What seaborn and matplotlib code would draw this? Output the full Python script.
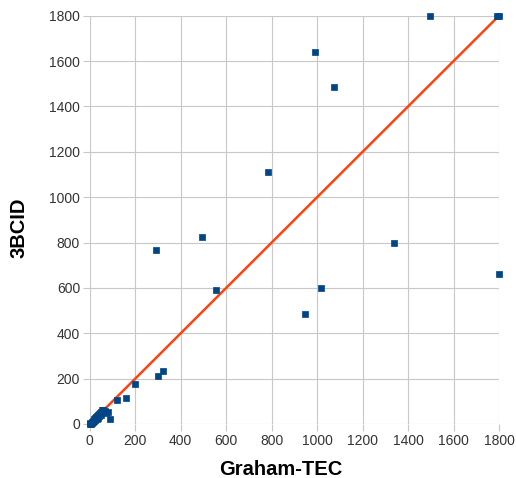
import matplotlib
matplotlib.use("Agg")
import matplotlib.pyplot as plt
import seaborn as sns
import pandas as pd

graham_tec = [0, 3, 5, 8, 10, 12, 15, 18, 20, 22, 25, 28, 30, 33, 35, 38, 40, 42, 45, 48, 50, 55, 60, 65, 70, 80, 88,
              120, 160, 200, 300, 320, 290, 495, 555, 785, 945, 990, 1015, 1075, 1340, 1495, 1790, 1800, 1800]
bcid = [0, 5, 2, 10, 6, 15, 8, 20, 12, 25, 18, 30, 22, 35, 40, 28, 45, 35, 50, 40, 55, 60, 62, 58, 50, 53, 22,
        105, 115, 175, 210, 235, 765, 825, 590, 1110, 485, 1640, 600, 1485, 800, 1800, 1800, 1800, 660]
line_x = [60, 1800]
line_y = [60, 1800]
ticks = [0, 200, 400, 600, 800, 1000, 1200, 1400, 1600, 1800]

sns.set_theme(style="white")
plt.rcParams['font.family'] = ['Liberation Sans', 'DejaVu Sans']

fig = plt.figure(figsize=(5.16, 4.78), dpi=100)
ax = fig.add_axes([0.174, 0.113, 0.793, 0.854])

df = pd.DataFrame({"Graham-TEC": graham_tec, "3BCID": bcid})
sns.lineplot(x=line_x, y=line_y, ax=ax, color="#ff420e", linewidth=1.8, zorder=2)
sns.scatterplot(data=df, x="Graham-TEC", y="3BCID", ax=ax, marker="s", s=18,
                color="#004586", edgecolor="#004586", linewidth=0.5, zorder=3, clip_on=False)

ax.set_xlim(0, 1800)
ax.set_ylim(0, 1800)
ax.set_xticks(ticks)
ax.set_yticks(ticks)
ax.grid(True, color="#c8c8c8", linewidth=0.8)
ax.set_axisbelow(True)
for s in ax.spines.values():
    s.set_visible(False)
ax.tick_params(axis="both", which="both", length=5, width=0.8, color="#c8c8c8",
               labelsize=10, labelcolor="#333333", pad=2, bottom=True, left=True)
ax.set_xlabel("Graham-TEC", fontsize=14.5, fontweight="bold", color="#000000")
ax.set_ylabel("3BCID", fontsize=14.5, fontweight="bold", color="#000000")
ax.xaxis.set_label_coords((281 - 90) / 409, -(469 - 424) / 408)
ax.yaxis.set_label_coords(-(90 - 19) / 409, (424 - 228) / 408)
ax.xaxis.label.set_va("center")
ax.yaxis.label.set_va("center")

fig.savefig("out.png", dpi=100)
